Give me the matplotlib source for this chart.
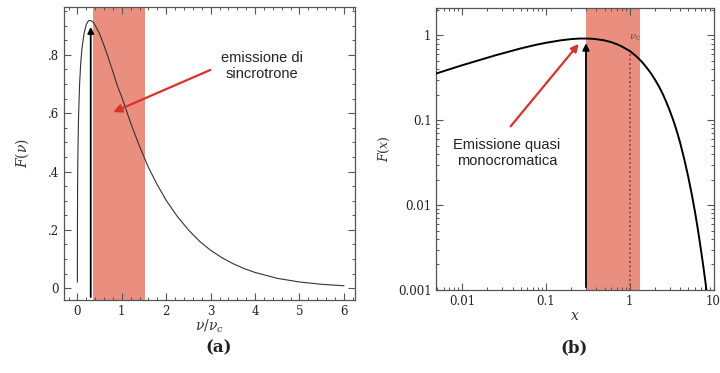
import numpy as np
import matplotlib
matplotlib.use("Agg")
import matplotlib.pyplot as plt
from matplotlib.ticker import MultipleLocator, FixedLocator, FixedFormatter, LogLocator, NullFormatter

plt.rcParams['mathtext.fontset'] = 'dejavuserif'

# synchrotron function F(x)
x_vals = [1e-6, 1e-5, 1e-4, 0.001, 0.005, 0.01, 0.025, 0.05, 0.075, 0.1, 0.15, 0.2,
          0.25, 0.29, 0.35, 0.4, 0.5, 0.6, 0.7, 0.8, 0.9, 1.0, 1.2, 1.4, 1.6, 1.8,
          2.0, 2.25, 2.5, 2.75, 3.0, 3.25, 3.5, 3.75, 4.0, 4.5, 5.0, 5.5, 6.0,
          6.5, 7.0, 7.5, 8.0, 8.5, 9.0]
f_vals = [0.0215, 0.046, 0.10, 0.213, 0.358, 0.445, 0.583, 0.702, 0.772, 0.818, 0.874, 0.904,
          0.917, 0.918, 0.913, 0.901, 0.872, 0.832, 0.788, 0.742, 0.694, 0.655, 0.566, 0.486,
          0.414, 0.354, 0.301, 0.246, 0.200, 0.161, 0.130, 0.105, 0.0845, 0.0676, 0.0541,
          0.0339, 0.0214, 0.0134, 0.0084, 0.0052, 0.0032, 0.0020, 0.00125, 0.00076, 0.00046]

band_a = (0.34, 1.52)
band_b = (0.30, 1.33)
peak_x = 0.30
nu_c = 1.0

band_color = '#ea8f7f'
red = '#d8322b'
frame = '#555555'

fig = plt.figure(figsize=(7.2, 3.73), dpi=100)

# ---- panel (a): linear axes
ax1 = fig.add_axes([0.089, 0.196, 0.404, 0.786])
xa = np.array(x_vals)
fa = np.array(f_vals)
keep = xa <= 6.0
ax1.axvspan(band_a[0], band_a[1], color=band_color, lw=0, zorder=1)
ax1.plot(xa[keep], fa[keep], color='#333333', lw=0.8, zorder=3)
ax1.annotate('', xy=(peak_x, 0.905), xytext=(peak_x, -0.04),
             arrowprops=dict(arrowstyle='-|>', color='black', lw=1.3, mutation_scale=9),
             zorder=4)
ax1.annotate('', xy=(0.75, 0.60), xytext=(3.05, 0.752),
             arrowprops=dict(arrowstyle='-|>', color=red, lw=1.6, mutation_scale=12),
             zorder=5)
ax1.text(4.15, 0.762, 'emissione di\nsincrotrone', ha='center', va='center',
         fontsize=10.5, family='Liberation Sans', color='#222222', linespacing=1.2)
ax1.set_xlim(-0.3, 6.25)
ax1.set_ylim(-0.04, 0.965)
ax1.xaxis.set_major_locator(MultipleLocator(1))
ax1.xaxis.set_minor_locator(MultipleLocator(0.2))
ax1.yaxis.set_major_locator(FixedLocator([0, 0.2, 0.4, 0.6, 0.8]))
ax1.yaxis.set_major_formatter(FixedFormatter(['0', '.2', '.4', '.6', '.8']))
ax1.yaxis.set_minor_locator(MultipleLocator(0.05))
ax1.set_xlabel(r'$\nu/\nu_c$', fontsize=10, color='#333333', labelpad=0)
ax1.set_ylabel(r'$F(\nu)$', fontsize=10, color='#333333', labelpad=12)

# ---- panel (b): log-log axes
ax2 = fig.add_axes([0.606, 0.2225, 0.385, 0.756])
ax2.axvspan(band_b[0], band_b[1], color=band_color, lw=0, zorder=1)
ax2.plot(xa, fa, color='black', lw=1.4, zorder=3)
ax2.plot([nu_c, nu_c], [0.001, 0.62], color='#8a4a44', lw=1.2, ls=(0, (1.2, 1.5)), zorder=2)
ax2.text(nu_c * 0.99, 0.93, r'$\nu_c$', fontsize=7.5, color='#555555', ha='left', va='center')
ax2.annotate('', xy=(peak_x, 0.87), xytext=(peak_x, 0.001),
             arrowprops=dict(arrowstyle='-|>', color='black', lw=1.3, mutation_scale=10),
             zorder=4)
ax2.annotate('', xy=(0.258, 0.84), xytext=(0.036, 0.08),
             arrowprops=dict(arrowstyle='-|>', color=red, lw=1.6, mutation_scale=11),
             zorder=5)
ax2.text(0.034, 0.041, 'Emissione quasi\nmonocromatica', ha='center', va='center',
         fontsize=10.5, family='Liberation Sans', color='#222222', linespacing=1.2)
ax2.set_xscale('log')
ax2.set_yscale('log')
ax2.set_xlim(0.0049, 10)
ax2.set_ylim(0.001, 2.1)
ax2.xaxis.set_major_locator(FixedLocator([0.01, 0.1, 1, 10]))
ax2.xaxis.set_major_formatter(FixedFormatter(['0.01', '0.1', '1', '10']))
ax2.yaxis.set_major_locator(FixedLocator([0.001, 0.01, 0.1, 1]))
ax2.yaxis.set_major_formatter(FixedFormatter(['0.001', '0.01', '0.1', '1']))
for ax_ in (ax2.xaxis, ax2.yaxis):
    ax_.set_minor_locator(LogLocator(base=10, subs=np.arange(2, 10), numticks=20))
    ax_.set_minor_formatter(NullFormatter())
ax2.set_xlabel(r'$x$', fontsize=10, color='#333333', labelpad=1)
ax2.set_ylabel(r'$F(x)$', fontsize=9, color='#333333', labelpad=4)

for ax in (ax1, ax2):
    ax.tick_params(which='both', direction='in', top=True, right=True, colors=frame,
                   labelcolor='#222222', labelsize=8.5)
    ax.tick_params(which='major', length=5, width=0.8)
    ax.tick_params(which='minor', length=2.5, width=0.7)
    for lab in ax.get_xticklabels() + ax.get_yticklabels():
        lab.set_family('DejaVu Serif')
    for s in ax.spines.values():
        s.set_color(frame)
        s.set_linewidth(0.9)

fig.text(0.304, 0.067, '(a)', ha='center', va='center', fontsize=12,
         family='DejaVu Serif', weight='bold', color='#222222')
fig.text(0.797, 0.067, '(b)', ha='center', va='center', fontsize=12,
         family='DejaVu Serif', weight='bold', color='#222222')

fig.savefig('out.png', dpi=100)
